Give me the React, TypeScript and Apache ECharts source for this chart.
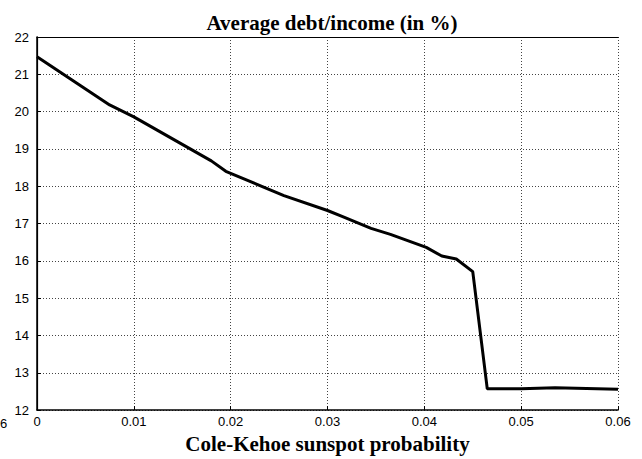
import React, { useEffect, useRef } from "react";
import * as echarts from "echarts";

const probabilities = [0, 0.0075, 0.01, 0.018, 0.0195, 0.0255, 0.03, 0.0315, 0.0345, 0.0365, 0.0402, 0.0418, 0.0433, 0.045, 0.0465, 0.05, 0.0535, 0.06];
const debtIncome = [21.47, 20.18, 19.86, 18.68, 18.4, 17.75, 17.35, 17.19, 16.87, 16.71, 16.36, 16.13, 16.05, 15.71, 12.57, 12.57, 12.6, 12.56];
const titleText = "Average debt/income (in %)";
const xAxisName = "Cole-Kehoe sunspot probability";

export default function App() {
  const ref = useRef<HTMLDivElement>(null);
  useEffect(() => {
    document.body.style.margin = "0";
    const chart = echarts.init(ref.current!, null, { renderer: "svg" });
    const data = probabilities.map((p, i) => [p, debtIncome[i]]);
    const labelFont = { fontFamily: "Liberation Sans, Arial, sans-serif", fontSize: 13, color: "#000" };
    const gridLine = { show: true, lineStyle: { color: "#444", type: [1, 2] as any, width: 1 } };
    chart.setOption({
      animation: false,
      backgroundColor: "#fff",
      title: {
        text: titleText,
        left: 327,
        top: 7,
        textAlign: "center",
        textStyle: { fontFamily: "Liberation Serif, Times New Roman, serif", fontWeight: "bold", fontSize: 21, color: "#000" },
      },
      grid: { left: 37, right: 24, top: 37, bottom: 47 },
      xAxis: [
        {
          type: "value",
          min: 0,
          max: 0.06,
          interval: 0.01,
          name: xAxisName,
          nameLocation: "middle",
          nameGap: 18,
          nameTextStyle: { fontFamily: "Liberation Serif, Times New Roman, serif", fontWeight: "bold", fontSize: 21, color: "#000" },
          axisLine: { show: true, lineStyle: { color: "#000", width: 1.5 } },
          axisTick: { show: true, inside: true, length: 4, lineStyle: { color: "#000" } },
          axisLabel: { ...labelFont, margin: 5, formatter: (v: number) => (v === 0 ? "0" : v.toFixed(2)) },
          splitLine: gridLine,
        },
        {
          type: "value",
          position: "top",
          min: 0,
          max: 0.06,
          interval: 0.01,
          axisLine: { show: true, lineStyle: { color: "#000", width: 1.2 } },
          axisTick: { show: false },
          axisLabel: { show: false },
          splitLine: { show: false },
        },
      ],
      yAxis: [
        {
          type: "value",
          min: 12,
          max: 22,
          interval: 1,
          axisLine: { show: true, lineStyle: { color: "#000", width: 1.5 } },
          axisTick: { show: true, inside: true, length: 4, lineStyle: { color: "#000" } },
          axisLabel: { ...labelFont, margin: 8 },
          splitLine: gridLine,
        },
        {
          type: "value",
          position: "right",
          min: 12,
          max: 22,
          interval: 1,
          axisLine: { show: true, lineStyle: { color: "#000", width: 1.2 } },
          axisTick: { show: false },
          axisLabel: { show: false },
          splitLine: { show: false },
        },
      ],
      graphic: [
        {
          type: "text",
          left: 0,
          top: 417,
          style: { text: "6", fontFamily: "Liberation Sans, Arial, sans-serif", fontSize: 13, fill: "#000" },
        },
      ],
      series: [
        {
          type: "line",
          data,
          showSymbol: false,
          lineStyle: { color: "#000", width: 3 },
          z: 5,
        },
      ],
    });
    return () => chart.dispose();
  }, []);
  return <div ref={ref} style={{ width: 642, height: 459 }} />;
}
